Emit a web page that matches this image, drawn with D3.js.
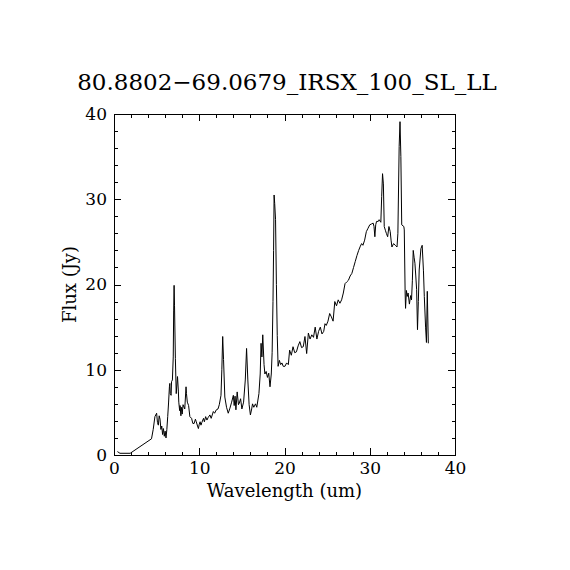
<!DOCTYPE html>
<html>
<head>
<meta charset="utf-8">
<style>
    body { margin: 0; background-color: #fff; }
    svg { background-color: #fff; }
    text { font-family: "DejaVu Serif", serif; fill: #000; }
    .axis path, .axis line { stroke: #000; stroke-width: 1; shape-rendering: crispEdges; }
</style>
<script src="https://d3js.org/d3.v7.min.js"></script>
</head>
<body>
<div id="chart"></div>
<script>
// spectrum
var wavelength = [
    0.4, 0.7, 1.9, 4.4, 4.6, 4.8, 5.0, 5.1, 5.2, 5.3, 5.4, 5.5, 5.6, 5.7, 5.8, 5.9, 6.0, 6.1, 6.2, 6.3,
    6.4, 6.5, 6.55, 6.6, 6.7, 6.75, 6.85, 6.95, 7.0, 7.05, 7.1, 7.2, 7.3, 7.45, 7.55, 7.6, 7.7, 7.75, 7.85, 7.9,
    8.0, 8.1, 8.3, 8.45, 8.5, 8.6, 8.75, 8.9, 9.1, 9.25, 9.4, 9.55, 9.65, 9.8, 9.9, 10.0, 10.1, 10.2, 10.3, 10.5,
    10.6, 10.75, 10.9, 11.05, 11.25, 11.4, 11.65, 11.8, 12.0, 12.2, 12.35, 12.55, 12.65, 12.75, 12.85, 13.0, 13.2, 13.4, 13.6, 13.8,
    14.0, 14.1, 14.2, 14.3, 14.45, 14.6, 14.7, 14.85, 15.0, 15.2, 15.4, 15.55, 15.7, 15.85, 16.0, 16.15, 16.25, 16.4, 16.6, 16.75,
    17.0, 17.15, 17.25, 17.35, 17.45, 17.6, 17.7, 17.85, 18.0, 18.15, 18.3, 18.45, 18.55, 18.65, 18.72, 18.78, 18.85, 18.95, 19.05, 19.15,
    19.25, 19.4, 19.55, 19.7, 19.85, 20.05, 20.25, 20.45, 20.6, 20.8, 21.0, 21.2, 21.4, 21.6, 21.8, 22.0, 22.2, 22.4, 22.6, 22.8,
    23.0, 23.2, 23.4, 23.6, 23.8, 24.0, 24.2, 24.4, 24.6, 24.75, 24.9, 25.1, 25.3, 25.5, 25.7, 25.9, 26.1, 26.3, 26.5, 26.7,
    26.9, 27.1, 27.3, 27.5, 27.7, 27.9, 28.1, 28.3, 28.5, 28.7, 28.9, 29.05, 29.2, 29.4, 29.6, 29.8, 30.0, 30.2, 30.4, 30.5,
    30.6, 30.7, 30.8, 31.0, 31.1, 31.3, 31.4, 31.5, 31.6, 31.7, 31.85, 31.95, 32.1, 32.25, 32.4, 32.5, 32.6, 32.8, 33.0, 33.2,
    33.3, 33.45, 33.55, 33.65, 33.75, 34.0, 34.05, 34.15, 34.2, 34.3, 34.4, 34.5, 34.65, 34.8, 34.9, 35.0, 35.1, 35.2, 35.3, 35.4,
    35.5, 35.6, 35.7, 35.8, 36.0, 36.15, 36.3, 36.4, 36.55, 36.65, 36.75, 36.87
];
var flux = [
    0.4, 0.2, 0.2, 1.9, 3.0, 4.5, 4.9, 3.8, 3.5, 4.6, 4.2, 3.0, 3.4, 2.4, 3.1, 2.2, 2.8, 2.0, 3.0, 4.5,
    6.1, 8.0, 8.4, 7.2, 7.0, 8.6, 8.8, 11.5, 17.0, 19.9, 17.5, 11.3, 7.2, 9.2, 7.5, 6.2, 5.2, 5.8, 4.6, 5.6,
    4.8, 5.9, 5.4, 8.0, 7.2, 6.2, 5.8, 4.5, 4.3, 3.7, 3.7, 4.2, 3.9, 3.4, 3.1, 3.6, 3.9, 3.5, 3.8, 4.3,
    3.9, 4.5, 4.1, 4.4, 4.7, 4.3, 5.1, 4.9, 5.3, 5.4, 5.9, 7.0, 10.0, 13.9, 11.2, 6.8, 5.6, 4.9, 5.5, 6.2,
    7.0, 5.8, 6.9, 5.3, 7.4, 5.9, 6.1, 6.6, 5.4, 6.2, 8.8, 12.5, 8.8, 5.9, 4.7, 5.4, 6.0, 5.6, 6.0, 5.6,
    7.2, 9.5, 13.1, 11.5, 14.1, 10.6, 9.5, 9.8, 9.1, 9.6, 8.0, 9.5, 12.0, 18.0, 24.0, 30.5, 29.5, 27.6, 20.0, 14.0,
    10.4, 11.1, 10.6, 10.8, 10.4, 10.4, 10.8, 10.6, 12.3, 11.7, 12.7, 12.0, 12.1, 12.8, 13.3, 12.6, 12.7, 13.9, 11.9, 14.3,
    13.6, 14.1, 13.8, 15.0, 13.6, 14.5, 15.0, 14.2, 14.5, 15.4, 15.2, 15.7, 16.6, 16.2, 15.7, 18.0, 17.5, 18.2, 17.8, 18.2,
    19.0, 20.1, 20.3, 20.5, 21.0, 21.3, 22.0, 22.7, 23.4, 24.0, 24.5, 24.8, 24.6, 25.2, 26.2, 26.6, 27.0, 27.1, 27.2, 26.8,
    25.6, 27.0, 27.4, 27.4, 27.6, 27.3, 30.3, 33.0, 31.8, 26.8, 26.3, 26.0, 25.6, 26.8, 26.2, 25.2, 24.4, 24.8, 24.6, 24.4,
    26.0, 36.2, 39.1, 35.0, 27.0, 26.8, 26.4, 19.0, 17.2, 19.3, 18.6, 19.0, 17.7, 18.7, 18.2, 20.5, 24.0, 23.2, 22.5, 21.0,
    19.4, 14.7, 18.0, 21.7, 24.2, 24.6, 21.6, 18.6, 15.0, 13.2, 19.2, 13.1
];

var xTicks = [0, 10, 20, 30, 40];
var yTicks = [0, 10, 20, 30, 40];
var minorTicks = d3.range(0, 41, 2);

var titleText = "80.8802\u221269.0679_IRSX_100_SL_LL";
var xTitle = "Wavelength (um)";
var yTitle = "Flux (Jy)";

var width = 570, height = 570;
var plotL = 114, plotR = 455, plotT = 114, plotB = 455;

var svg = d3.select("#chart").append("svg")
    .attr("width", width)
    .attr("height", height);

var x = d3.scaleLinear().domain([0, 40]).range([plotL, plotR]);
var y = d3.scaleLinear().domain([0, 40]).range([plotB, plotT]);

// minor ticks on all four sides
svg.append("g").attr("class", "axis").attr("transform", "translate(0," + plotB + ")")
    .call(d3.axisBottom(x).tickValues(minorTicks).tickSize(-3.5).tickFormat(""));
svg.append("g").attr("class", "axis").attr("transform", "translate(0," + plotT + ")")
    .call(d3.axisTop(x).tickValues(minorTicks).tickSize(-3.5).tickFormat(""));
svg.append("g").attr("class", "axis").attr("transform", "translate(" + plotL + ",0)")
    .call(d3.axisLeft(y).tickValues(minorTicks).tickSize(-3.5).tickFormat(""));
svg.append("g").attr("class", "axis").attr("transform", "translate(" + plotR + ",0)")
    .call(d3.axisRight(y).tickValues(minorTicks).tickSize(-3.5).tickFormat(""));

// major ticks
svg.append("g").attr("class", "axis").attr("transform", "translate(0," + plotB + ")")
    .call(d3.axisBottom(x).tickValues(xTicks).tickSize(-7).tickPadding(7).tickFormat(d3.format("d")));
svg.append("g").attr("class", "axis").attr("transform", "translate(0," + plotT + ")")
    .call(d3.axisTop(x).tickValues(xTicks).tickSize(-7).tickFormat(""));
svg.append("g").attr("class", "axis").attr("transform", "translate(" + plotL + ",0)")
    .call(d3.axisLeft(y).tickValues(yTicks).tickSize(-7).tickPadding(7).tickFormat(d3.format("d")));
svg.append("g").attr("class", "axis").attr("transform", "translate(" + plotR + ",0)")
    .call(d3.axisRight(y).tickValues(yTicks).tickSize(-7).tickFormat(""));

svg.selectAll(".axis text")
    .style("font-family", "DejaVu Serif, serif")
    .style("font-size", "17px");

// frame
svg.append("rect")
    .attr("x", plotL).attr("y", plotT)
    .attr("width", plotR - plotL).attr("height", plotB - plotT)
    .attr("fill", "none").attr("stroke", "#000").attr("stroke-width", 1)
    .attr("shape-rendering", "crispEdges");

// spectrum
var pts = wavelength.map(function (d, i) { return [d, flux[i]]; });
var line = d3.line()
    .x(function (d) { return x(d[0]); })
    .y(function (d) { return y(d[1]); });

svg.append("path")
    .datum(pts)
    .attr("d", line)
    .attr("fill", "none")
    .attr("stroke", "#000")
    .attr("stroke-width", 1);

// titles
svg.append("text")
    .attr("x", 287).attr("y", 90)
    .attr("text-anchor", "middle")
    .style("font-size", "23px")
    .text(titleText);

svg.append("text")
    .attr("x", (plotL + plotR) / 2).attr("y", 497)
    .attr("text-anchor", "middle")
    .style("font-size", "18px")
    .text(xTitle);

svg.append("text")
    .attr("transform", "translate(76," + (plotT + plotB) / 2 + ") rotate(-90)")
    .attr("text-anchor", "middle")
    .style("font-size", "18px")
    .text(yTitle);
</script>
</body>
</html>
